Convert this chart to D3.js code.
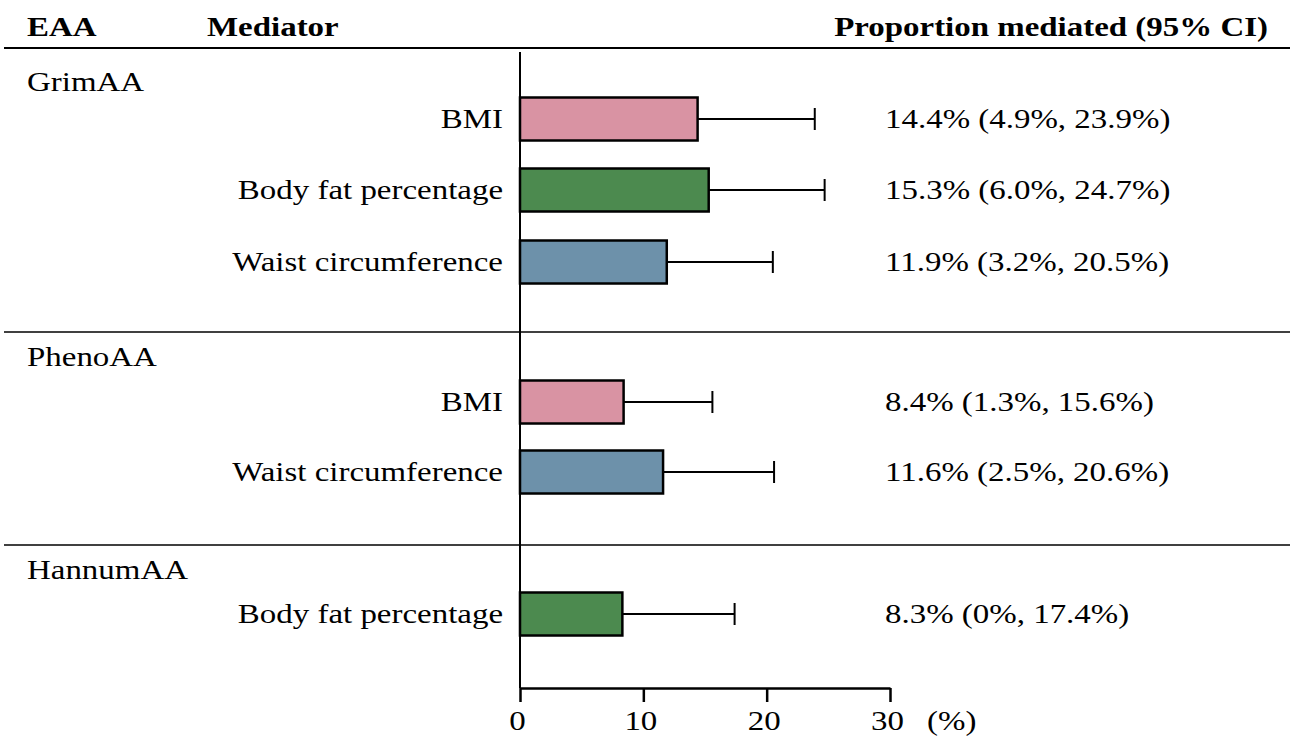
<!DOCTYPE html>
<html>
<head>
<meta charset="utf-8">
<script src="https://cdn.jsdelivr.net/npm/d3@7"></script>
<style>
  body { margin: 0; background: #fff; }
  text { font-family: "Liberation Serif", "Times New Roman", serif; fill: #000; }
  .head { font-weight: bold; font-size: 27px; }
  .lab { font-size: 27px; }
</style>
</head>
<body>
<svg id="chart" width="1290" height="739"></svg>
<script>
const groups = ["GrimAA", "PhenoAA", "HannumAA"];
const mediators = ["BMI", "Body fat percentage", "Waist circumference", "BMI", "Waist circumference", "Body fat percentage"];
const rowGroup = [0, 0, 0, 1, 1, 2];
const estimate = [14.4, 15.3, 11.9, 8.4, 11.6, 8.3];
const lower = [4.9, 6.0, 3.2, 1.3, 2.5, 0];
const upper = [23.9, 24.7, 20.5, 15.6, 20.6, 17.4];
const ciLabels = ["14.4% (4.9%, 23.9%)", "15.3% (6.0%, 24.7%)", "11.9% (3.2%, 20.5%)",
  "8.4% (1.3%, 15.6%)", "11.6% (2.5%, 20.6%)", "8.3% (0%, 17.4%)"];
const xTicks = [0, 10, 20, 30];

const colors = {
  "BMI": "#d993a3",
  "Body fat percentage": "#4c8a4f",
  "Waist circumference": "#6d91aa"
};

// the original type is a bit wider than plain Times
const sx = 1.22;

const svg = d3.select("#chart");

const x = d3.scaleLinear().domain([0, 30]).range([520, 890]);

const rowY = [119, 190, 262, 402, 472, 614];
const groupY = [82, 357, 570];
const sepY = [332, 545];
const barH = 43;

function addText(cls, tx, ty, str, anchor) {
  return svg.append("text")
    .attr("class", cls)
    .attr("transform", `translate(${tx},${ty}) scale(${sx},1)`)
    .attr("dominant-baseline", "central")
    .attr("text-anchor", anchor || "start")
    .text(str);
}

// header
addText("head", 27, 27, "EAA");
addText("head", 207, 27, "Mediator");
addText("head", 1268, 27, "Proportion mediated (95% CI)", "end");

svg.append("line").attr("x1", 4).attr("x2", 1290).attr("y1", 48).attr("y2", 48)
  .attr("stroke", "#000").attr("stroke-width", 2);

sepY.forEach(y0 => {
  svg.append("line").attr("x1", 4).attr("x2", 1290).attr("y1", y0).attr("y2", y0)
    .attr("stroke", "#000").attr("stroke-width", 1.5);
});

// group names
groups.forEach((g, i) => addText("lab", 27, groupY[i], g));

// mediator labels + CI text
mediators.forEach((m, i) => {
  addText("lab", 503, rowY[i], m, "end");
  addText("lab", 885, rowY[i], ciLabels[i]);
});

// error bars (upper half only)
const eb = svg.append("g");
estimate.forEach((v, i) => {
  eb.append("line").attr("x1", x(v)).attr("x2", x(upper[i]))
    .attr("y1", rowY[i]).attr("y2", rowY[i]).attr("stroke", "#000").attr("stroke-width", 2);
  eb.append("line").attr("x1", x(upper[i])).attr("x2", x(upper[i]))
    .attr("y1", rowY[i] - 11).attr("y2", rowY[i] + 11).attr("stroke", "#000").attr("stroke-width", 2);
});

// bars
svg.selectAll(".bar").data(estimate).join("rect")
  .attr("class", "bar")
  .attr("x", x(0))
  .attr("y", (d, i) => rowY[i] - barH / 2)
  .attr("width", d => x(d) - x(0))
  .attr("height", barH)
  .attr("fill", (d, i) => colors[mediators[i]])
  .attr("stroke", "#000")
  .attr("stroke-width", 2.5);

// vertical axis line
svg.append("line").attr("x1", x(0)).attr("x2", x(0)).attr("y1", 52).attr("y2", 688)
  .attr("stroke", "#000").attr("stroke-width", 2);

// x axis
const xAxis = svg.append("g").attr("transform", "translate(0,688)")
  .call(d3.axisBottom(x).tickValues(xTicks).tickSize(14).tickSizeOuter(0));
xAxis.select(".domain").attr("stroke-width", 2.5);
xAxis.selectAll(".tick line").attr("stroke-width", 2.5);
xAxis.selectAll(".tick text").attr("class", "lab").attr("font-size", null)
  .attr("font-family", null).style("font-size", "27px")
  .attr("y", null).attr("dy", null)
  .attr("dominant-baseline", "central")
  .attr("transform", `translate(-3,33) scale(${sx},1)`);

addText("lab", 927, 721, "(%)");
</script>
</body>
</html>
